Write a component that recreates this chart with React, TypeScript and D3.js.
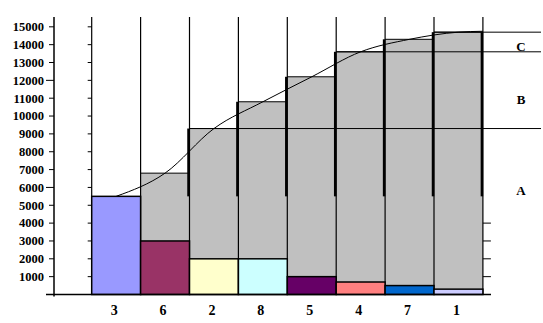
import React from 'react';
import * as d3 from 'd3';

const categories = ['3', '6', '2', '8', '5', '4', '7', '1'];
const itemValues = [5500, 3000, 2000, 2000, 1000, 700, 500, 300];
const cumulativeValues = [5500, 6800, 9300, 10800, 12200, 13600, 14300, 14700];
const curveEndValue = 14750;
const barColors = ['#9999FF', '#993366', '#FFFFCC', '#CCFFFF', '#660066', '#FF8080', '#0066CC', '#CCCCFF'];
const yTickValues = [1000, 2000, 3000, 4000, 5000, 6000, 7000, 8000, 9000, 10000, 11000, 12000, 13000, 14000, 15000];
const yTickLabels = ['1000', '2000', '3000', '4000', '5000', '6000', '7000', '8000', '9000', '10000', '11000', '12000', '13000', '14000', '15000'];
const classLabels = ['A', 'B', 'C'];
const classEndItems = ['2', '4', '1'];
const classLabelValues = [5850, 10950, 13920];

const W = 543;
const H = 323;

export default function App() {
  const y = d3.scaleLinear().domain([0, 15550]).range([294.5, 17]);
  const x = d3.scaleBand<string>().domain(categories).range([91.7, 482.9]).padding(0);
  const bw = x.bandwidth();
  const right = x.range()[1];
  const base = y(0);
  const top = y.range()[1];
  const axisX = 54;

  const curvePts: [number, number][] = categories.map((c, i) => [x(c)! + bw / 2, y(cumulativeValues[i])]);
  curvePts.push([right, y(curveEndValue)]);
  const line = d3.line().curve(d3.curveMonotoneX);

  const font = '"Liberation Serif", "Times New Roman", serif';

  const boundaries = categories.map((c) => x(c)!).concat([right]);

  return (
    <svg width={W} height={H} style={{ position: 'absolute', left: 0, top: 0, background: '#fff' }}>
      <rect x={0} y={0} width={W} height={H} fill="#fff" />
      {/* gray cumulative blocks */}
      {categories.map((c, i) =>
        i === 0 ? null : (
          <g key={'g' + c}>
            <rect x={x(c)} y={y(cumulativeValues[i])} width={bw} height={y(itemValues[i]) - y(cumulativeValues[i])} fill="#C0C0C0" />
            <line x1={x(c)} x2={x(c)! + bw} y1={y(cumulativeValues[i])} y2={y(cumulativeValues[i])} stroke="#000" strokeWidth={1} />
          </g>
        )
      )}
      {/* class boundary lines */}
      {classEndItems.map((c) => {
        const i = categories.indexOf(c);
        const yy = y(cumulativeValues[i]);
        return <line key={'cl' + c} x1={x(c)} x2={541} y1={yy} y2={yy} stroke="#000" strokeWidth={1} />;
      })}
      {/* column boundary lines */}
      {boundaries.map((bx, i) => (
        <line key={'v' + i} x1={bx} x2={bx} y1={top} y2={base} stroke="#000" strokeWidth={1.2} />
      ))}
      {/* thick segments */}
      {boundaries.map((bx, i) => {
        if (i < 2) return null;
        const idx = Math.min(i, categories.length - 1);
        return (
          <line key={'t' + i} x1={bx - 1} x2={bx - 1} y1={y(cumulativeValues[idx])} y2={y(cumulativeValues[0])} stroke="#000" strokeWidth={2.5} />
        );
      })}
      {/* small ticks on last boundary */}
      {yTickValues.slice(0, 4).map((v) => (
        <line key={'rt' + v} x1={right} x2={right + 8} y1={y(v)} y2={y(v)} stroke="#000" strokeWidth={1} />
      ))}
      {/* ticks on first column line */}
      {yTickValues.map((v) => (
        <line key={'lt' + v} x1={x(categories[0])! - 4} x2={x(categories[0])} y1={y(v)} y2={y(v)} stroke="#000" strokeWidth={1} />
      ))}
      {/* colored item bars */}
      {categories.map((c, i) => (
        <rect key={'b' + c} x={x(c)} y={y(itemValues[i])} width={bw} height={base - y(itemValues[i])} fill={barColors[i]} stroke="#000" strokeWidth={1.5} />
      ))}
      {/* cumulative curve */}
      <path d={line(curvePts) || ''} fill="none" stroke="#000" strokeWidth={1} />
      {/* axes */}
      <line x1={axisX} x2={axisX} y1={top} y2={base + 2} stroke="#000" strokeWidth={1.5} />
      <line x1={46} x2={491} y1={base} y2={base} stroke="#000" strokeWidth={1.5} />
      {yTickValues.map((v, i) => (
        <g key={'yt' + v}>
          <line x1={axisX - (v === 6000 || v === 12000 ? 8 : 5)} x2={axisX} y1={y(v)} y2={y(v)} stroke="#000" strokeWidth={1} />
          <text x={44} y={y(v)} dy="0.35em" textAnchor="end" fontFamily={font} fontWeight="bold" fontSize={12.5}>
            {yTickLabels[i]}
          </text>
        </g>
      ))}
      {categories.map((c) => (
        <text key={'xl' + c} x={x(c)! + bw / 2 - 2} y={315} textAnchor="middle" fontFamily={font} fontWeight="bold" fontSize={14}>
          {c}
        </text>
      ))}
      {classLabels.map((l, i) => (
        <text key={'cls' + l} x={521} y={y(classLabelValues[i])} dy="0.35em" textAnchor="middle" fontFamily={font} fontWeight="bold" fontSize={13}>
          {l}
        </text>
      ))}
    </svg>
  );
}
